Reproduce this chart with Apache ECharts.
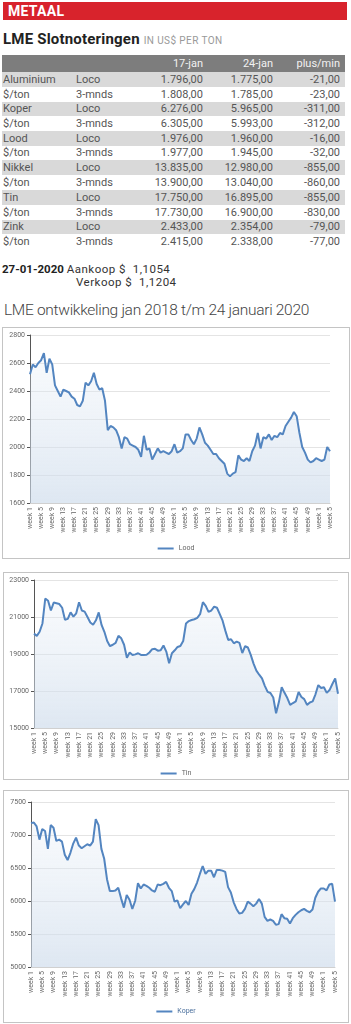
<!DOCTYPE html>
<html><head><meta charset="utf-8">
<script src="https://cdn.jsdelivr.net/npm/echarts@6/dist/echarts.min.js"></script>
<style>
body{margin:0;width:351px;height:1024px;background:#fff;font-family:Roboto,'Noto Sans',sans-serif;position:relative;overflow:hidden;}
.abs{position:absolute;white-space:nowrap;}
#bar{left:3px;top:2px;width:344px;height:18px;background:#d8232c;color:#fff;font-weight:700;font-size:14px;line-height:19px;padding-left:5px;box-sizing:border-box;letter-spacing:0.3px;}
#sub{left:3px;top:31px;font-size:15px;font-weight:700;color:#222;line-height:17px;letter-spacing:0.2px;}
#sub span{font-size:10px;font-weight:400;color:#999;letter-spacing:0.4px;}
.row{position:absolute;left:2px;width:343px;font-size:11px;color:#555;}
.row span{position:absolute;top:0;}
.box{position:absolute;border:1px solid #c4c4c4;box-sizing:border-box;}
.box div.c{position:absolute;left:0;top:0;width:100%;height:100%;}
#date{left:2px;top:263px;font-size:11.5px;line-height:13px;color:#333;}
#date b{font-weight:700;color:#222;}
#date .t{letter-spacing:0.5px;}
#ttl{left:4px;top:301px;font-size:15.5px;font-weight:300;color:#444;letter-spacing:-0.3px;}
</style></head>
<body>
<div id="bar" class="abs">METAAL</div>
<div id="sub" class="abs">LME Slotnoteringen <span>IN US$ PER TON</span></div>
<div id="table"></div>
<div id="date" class="abs"><b>27-01-2020</b> <span class="t">Aankoop $ &nbsp;1,1054</span><br><span class="t" style="padding-left:74px">Verkoop $ &nbsp;1,1204</span></div>
<div id="ttl" class="abs">LME ontwikkeling jan 2018 t/m 24 januari 2020</div>
<div class="box" style="left:2px;top:327px;width:348px;height:232px"><div class="c" id="c1"></div></div>
<div class="box" style="left:3px;top:572px;width:346px;height:208px"><div class="c" id="c2"></div></div>
<div class="box" style="left:3px;top:790px;width:346px;height:233px"><div class="c" id="c3"></div></div>
<script>
// ---- table data ----
const tableHeader = ['17-jan', '24-jan', 'plus/min'];
const rowNames = ['Aluminium','$/ton','Koper','$/ton','Lood','$/ton','Nikkel','$/ton','Tin','$/ton','Zink','$/ton'];
const rowTypes = ['Loco','3-mnds','Loco','3-mnds','Loco','3-mnds','Loco','3-mnds','Loco','3-mnds','Loco','3-mnds'];
const jan17 = ['1.796,00','1.808,00','6.276,00','6.305,00','1.976,00','1.977,00','13.835,00','13.900,00','17.750,00','17.730,00','2.433,00','2.415,00'];
const jan24 = ['1.775,00','1.785,00','5.965,00','5.993,00','1.960,00','1.945,00','12.980,00','13.040,00','16.895,00','16.900,00','2.354,00','2.338,00'];
const plusMin = ['-21,00','-23,00','-311,00','-312,00','-16,00','-32,00','-855,00','-860,00','-855,00','-830,00','-79,00','-77,00'];

// ---- chart data (weekly, week 1 2018 .. week 5 2020) ----
const weekLabels = [];
for (let y = 0; y < 2; y++) for (let w = 1; w <= 52; w++) weekLabels.push('week ' + w);
for (let w = 1; w <= 5; w++) weekLabels.push('week ' + w);

const lood = [2520,2590,2570,2600,2620,2670,2530,2630,2590,2440,2400,2360,2410,2400,2390,2360,2345,2300,2290,2330,
  2460,2440,2470,2530,2450,2410,2420,2330,2120,2150,2140,2120,2070,1990,2070,2060,2020,2010,2000,1980,
  1930,2080,1980,1990,1910,1950,1990,1960,1970,1960,1950,1970,2020,1960,1970,1990,2090,2090,2050,2020,
  2060,2140,2090,2030,2010,1980,1950,1950,1920,1900,1880,1810,1790,1810,1820,1940,1910,1900,1920,1900,
  1970,2010,2100,1990,2070,2060,2090,2050,2080,2070,2100,2090,2150,2180,2210,2250,2220,2100,2000,1960,
  1910,1890,1900,1920,1910,1900,1910,2000,1970];
const tin = [20100,19980,20200,20650,22000,21880,21350,21780,21740,21700,21500,20850,20900,21250,21020,21200,21800,21350,21290,21000,
  20700,20580,20820,21250,20570,20200,19700,19420,19500,19600,19980,19850,19500,18800,19080,18950,18980,19040,18950,18950,
  18960,19080,19260,19280,19180,19200,19460,19130,18500,19040,19200,19380,19430,19700,20650,20780,20840,20880,20950,21150,
  21800,21600,21280,21350,21560,21500,21150,20800,20250,19760,19800,19580,19670,19600,19050,19420,19350,18950,18480,18100,
  17880,17680,17280,16950,16890,16650,15800,16400,17200,16900,16620,16250,16350,16440,16950,16680,16560,16250,16380,16440,
  16820,17320,17160,17200,16900,17050,17380,17680,16850];
const koper = [7180,7190,7130,6930,7090,7060,6790,7150,7110,6910,6930,6900,6700,6620,6730,6870,6960,6840,6800,6830,
  6860,6840,6900,7240,7150,6790,6640,6330,6150,6150,6160,6200,6040,5900,6090,6020,5880,6000,6270,6190,
  6250,6230,6200,6160,6140,6250,6240,6260,6290,6200,6150,5990,6010,5890,5950,6000,5940,6110,6180,6280,
  6410,6530,6410,6460,6460,6360,6470,6470,6460,6440,6210,6130,5980,5880,5810,5820,5880,5990,5960,5920,
  5960,6030,5960,5760,5700,5720,5700,5640,5650,5800,5740,5730,5660,5740,5790,5830,5860,5880,5850,5830,
  5870,6050,6140,6190,6190,6160,6250,6260,5990];

// ---- build table ----
const tbl = document.getElementById('table');
function addRow(top, h, bg, cells, color) {
  const r = document.createElement('div');
  r.className = 'row';
  r.style.top = top + 'px';
  r.style.height = h + 'px';
  r.style.lineHeight = h + 'px';
  if (bg) r.style.background = bg;
  if (color) r.style.color = color;
  const pos = [['left', 1], ['left', 74], ['right', 142], ['right', 72], ['right', 5]];
  cells.forEach((t, i) => {
    const s = document.createElement('span');
    s.textContent = t;
    s.style[pos[i][0]] = pos[i][1] + 'px';
    r.appendChild(s);
  });
  tbl.appendChild(r);
}
addRow(55, 17, '#7d7d7d', ['', '', tableHeader[0], tableHeader[1], tableHeader[2]], '#f2f2f2');
const rowTops = [72, 87, 102, 116, 131, 146, 160, 175, 190, 205, 220, 234, 249];
rowNames.forEach((n, i) => {
  addRow(rowTops[i], rowTops[i + 1] - rowTops[i], i % 2 === 0 ? '#d9d9d9' : null, [n, rowTypes[i], jan17[i], jan24[i], plusMin[i]]);
});

// ---- charts ----
function makeChart(id, name, values, min, max, interval, grid, legendTop, legendColor) {
  const ch = echarts.init(document.getElementById(id), null, {renderer: 'canvas'});
  ch.setOption({
    animation: false,
    grid: grid,
    legend: {
      top: legendTop, left: 'center',
      data: [{name: name, icon: 'rect'}],
      itemWidth: 16, itemHeight: 2, itemGap: 4,
      textStyle: {fontSize: 7, color: legendColor || '#666', fontFamily: 'Roboto'}
    },
    xAxis: {
      type: 'category', data: weekLabels, boundaryGap: false,
      axisLine: {show: true, lineStyle: {color: '#d0d0d0'}},
      axisTick: {show: false},
      axisLabel: {interval: 3, rotate: 90, fontSize: 7, color: '#666', margin: 4, fontFamily: 'Roboto'}
    },
    yAxis: {
      type: 'value', min: min, max: max, interval: interval,
      axisLine: {show: true, lineStyle: {color: '#555', width: 1}},
      axisTick: {show: true, length: 3, lineStyle: {color: '#555'}},
      axisLabel: {fontSize: 7, color: '#666', margin: 5, fontFamily: 'Roboto', formatter: v => String(v)},
      splitLine: {lineStyle: {color: '#e4e4e4'}}
    },
    series: [{
      name: name, type: 'line', data: values, symbol: 'none',
      lineStyle: {color: '#5385c0', width: 2},
      itemStyle: {color: '#5385c0'},
      areaStyle: {
        color: new echarts.graphic.LinearGradient(0, 0, 0, 1, [
          {offset: 0, color: 'rgba(225,234,244,0.35)'},
          {offset: 1, color: 'rgba(205,219,235,0.95)'}
        ])
      }
    }]
  });
}
makeChart('c1', 'Lood', lood, 1600, 2800, 200, {left: 27, right: 19, top: 7, bottom: 55}, 212);
makeChart('c2', 'Tin', tin, 15000, 23000, 2000, {left: 30, right: 10, top: 7, bottom: 51}, 192);
makeChart('c3', 'Koper', koper, 5000, 7500, 500, {left: 27, right: 13, top: 11, bottom: 55}, 212, '#4a6f9c');
</script>
</body></html>
